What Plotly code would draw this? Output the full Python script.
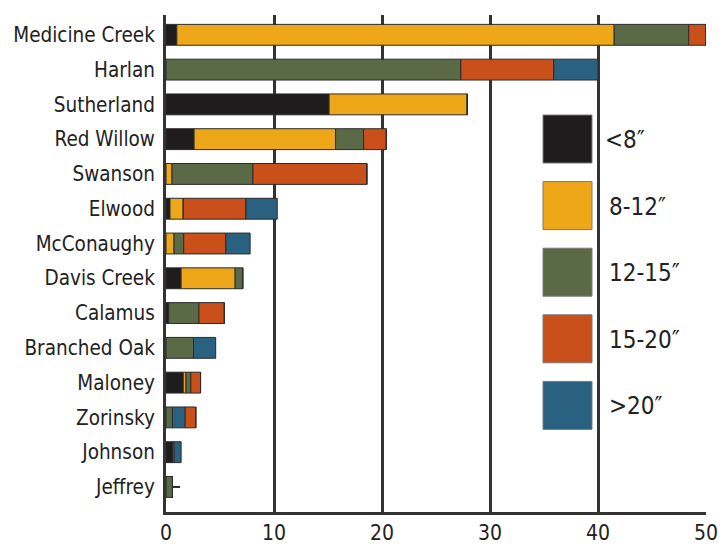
import plotly.graph_objects as go

categories = ["Medicine Creek", "Harlan", "Sutherland", "Red Willow", "Swanson", "Elwood",
              "McConaughy", "Davis Creek", "Calamus", "Branched Oak", "Maloney", "Zorinsky",
              "Johnson", "Jeffrey"]
classes = ["<8\u2033", "8-12\u2033", "12-15\u2033", "15-20\u2033", ">20\u2033"]
colors = ["#1f1c1d", "#eea718", "#5a6a47", "#c9501b", "#2a6181"]

lt8    = [1.0, 0, 15.1, 2.6, 0, 0.37, 0, 1.4, 0.25, 0, 1.6, 0, 0.6, 0]
s8_12  = [40.5, 0, 12.8, 13.1, 0.55, 1.23, 0.74, 5.0, 0, 0, 0.25, 0, 0, 0]
s12_15 = [6.9, 27.3, 0, 2.6, 7.5, 0, 0.9, 0.7, 2.8, 2.55, 0.45, 0.6, 0, 0.6]
s15_20 = [1.6, 8.6, 0, 2.1, 10.55, 5.8, 3.9, 0, 2.35, 0, 0.9, 1.0, 0.15, 0]
gt20   = [0, 4.1, 0, 0, 0, 2.9, 2.25, 0, 0, 2.05, 0, 1.15, 0.65, 0]
jeffrey_tail = 0.7  # thin whisker beyond the Jeffrey bar

series = [lt8, s8_12, s12_15, s15_20, gt20]
default_order = [0, 1, 2, 3, 4]
order_override = {"Zorinsky": [2, 4, 3, 0, 1]}

x_ticks = [0, 10, 20, 30, 40, 50]

FONT = "DejaVu Sans Condensed, Liberation Sans Narrow, Arial Narrow, sans-serif"

# compute bases per category following stacking order
bases = [[0.0] * len(categories) for _ in classes]
for ci, cat in enumerate(categories):
    acc = 0.0
    for k in order_override.get(cat, default_order):
        bases[k][ci] = acc
        acc += series[k][ci]

fig = go.Figure()
for k, name in enumerate(classes):
    fig.add_trace(go.Bar(
        y=categories, x=series[k], base=bases[k], orientation="h", name=name,
        marker=dict(color=colors[k], line=dict(color="#2b2b2b", width=1)),
        width=0.6, showlegend=False,
    ))

# Jeffrey whisker
ji = categories.index("Jeffrey")
jend = sum(series[k][ji] for k in range(5))
fig.add_trace(go.Scatter(x=[jend, jend + jeffrey_tail], y=["Jeffrey", "Jeffrey"], mode="lines",
                         line=dict(color="#2b2b2b", width=2), showlegend=False, hoverinfo="skip"))

# legend with large swatches
L, R, T, B = 166, 706, 15, 512
W, H = R - L, B - T
def px(x): return (x - L) / W
def py(y): return (B - y) / H
shapes = []
annotations = []
for k, name in enumerate(classes):
    top = 115 + k * 66.6
    shapes.append(dict(type="rect", xref="paper", yref="paper",
                       x0=px(543), x1=px(592), y0=py(top + 48), y1=py(top),
                       fillcolor=colors[k], line=dict(color="#7a7a7a", width=1)))
    annotations.append(dict(xref="paper", yref="paper", x=px(603 if k == 0 else 607),
                            y=py(top + 25), text=name, showarrow=False, xanchor="left",
                            yanchor="middle",
                            font=dict(size=24, color="#222", family=FONT)))

fig.update_layout(
    width=725, height=552,
    margin=dict(l=L, r=725 - R, t=T, b=552 - B),
    paper_bgcolor="white", plot_bgcolor="white",
    barmode="overlay", shapes=shapes, annotations=annotations,
    font=dict(family=FONT, color="#222"),
    xaxis=dict(range=[0, 50], tickvals=x_ticks, showgrid=True, gridcolor="#333", gridwidth=2.5,
               zeroline=False, showline=True, linecolor="#333", linewidth=3,
               tickfont=dict(size=21), ticks="", automargin=False),
    yaxis=dict(categoryorder="array", categoryarray=categories,
               range=[13.72, -0.57], showgrid=False, zeroline=False,
               showline=True, linecolor="#333", linewidth=3,
               tickfont=dict(size=20.5), ticks="", ticklabelstandoff=4, automargin=False),
)

fig.write_html("out.html", post_script="document.body.style.margin='0';",
               config={"displayModeBar": False})
